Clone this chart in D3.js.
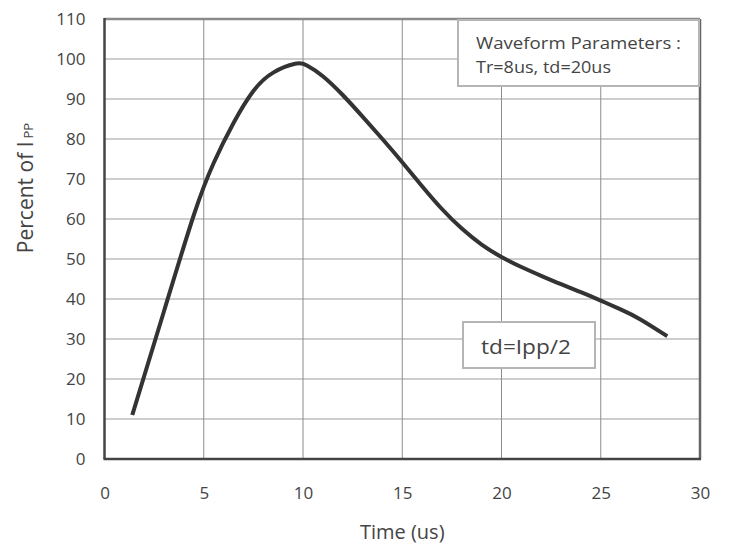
<!DOCTYPE html>
<html lang="en">
<head>
<meta charset="utf-8"/>
<title>Waveform</title>
<script src="https://d3js.org/d3.v7.min.js"></script>
<style>
  body { margin: 0; background: #fff; }
  text { font-family: "Open Sans", sans-serif; fill: #444; }
  .tick line { display: none; }
  .domain { display: none; }
</style>
</head>
<body>
<div id="chart"></div>
<script>
// values
var timeUs = [1.4, 3.0, 4.5, 5.5, 6.5, 7.5, 8.5, 9.6, 10.2, 11, 12, 13, 14, 15, 16, 17, 18,
              19, 20, 21, 22, 23, 24, 25, 26, 27, 28.35];
var percentIpp = [11, 37, 61, 74, 84, 92, 96.6, 98.8, 98.4, 95.7, 91, 85.6, 80, 74.2, 68.2,
                  62.5, 57.6, 53.6, 50.5, 48.0, 45.8, 43.7, 41.7, 39.6, 37.4, 34.9, 30.7];
var xTicks = [0, 5, 10, 15, 20, 25, 30];
var yTicks = [0, 10, 20, 30, 40, 50, 60, 70, 80, 90, 100, 110];
var paramLines = ["Waveform Parameters :", "Tr=8us, td=20us"];
var tdLabel = "td=Ipp/2";

var width = 735, height = 549;
var margin = {top: 19, right: 35, bottom: 90, left: 104.5};

var svg = d3.select("#chart").append("svg")
    .attr("width", width)
    .attr("height", height);

var x = d3.scaleLinear().domain([0, 30]).range([margin.left, width - margin.right]);
var y = d3.scaleLinear().domain([0, 110]).range([height - margin.bottom, margin.top]);

// grid
svg.append("g").selectAll("line")
    .data(yTicks.slice(1, -1))
    .enter().append("line")
      .attr("x1", x(0)).attr("x2", x(30))
      .attr("y1", function(d) { return y(d); })
      .attr("y2", function(d) { return y(d); })
      .attr("stroke", "#bcbcbc")
      .attr("stroke-width", 1.5);

svg.append("g").selectAll("line")
    .data(xTicks.slice(1, -1))
    .enter().append("line")
      .attr("y1", y(0)).attr("y2", y(110))
      .attr("x1", function(d) { return x(d); })
      .attr("x2", function(d) { return x(d); })
      .attr("stroke", "#8c8c8c")
      .attr("stroke-width", 1);

// frame
svg.append("line").attr("x1", x(0)).attr("x2", x(30)).attr("y1", y(110)).attr("y2", y(110))
    .attr("stroke", "#8a8a8a").attr("stroke-width", 2.5);
svg.append("line").attr("x1", x(30)).attr("x2", x(30)).attr("y1", y(110)).attr("y2", y(0))
    .attr("stroke", "#666").attr("stroke-width", 2.5);
svg.append("line").attr("x1", x(0)).attr("x2", x(0)).attr("y1", y(110) - 1).attr("y2", y(0))
    .attr("stroke", "#444").attr("stroke-width", 2.5);
svg.append("line").attr("x1", x(0) - 1).attr("x2", x(30) + 1).attr("y1", y(0)).attr("y2", y(0))
    .attr("stroke", "#444").attr("stroke-width", 2.5);

// axes
svg.append("g")
    .attr("transform", "translate(0," + (y(0) + 16) + ")")
    .call(d3.axisBottom(x).tickValues(xTicks).tickSize(0).tickPadding(12))
    .selectAll("text")
      .style("font-size", "17px")
      .attr("fill", "#444");

svg.append("g")
    .attr("transform", "translate(" + (x(0) - 19) + ",0)")
    .call(d3.axisLeft(y).tickValues(yTicks).tickSize(0).tickPadding(0))
    .selectAll("text")
      .style("font-size", "17px")
      .attr("fill", "#444");

svg.selectAll(".tick text").attr("font-family", null);

// axis titles
svg.append("text")
    .attr("x", (x(0) + x(30)) / 2)
    .attr("y", 539)
    .attr("text-anchor", "middle")
    .style("font-size", "20px")
    .text("Time (us)");

var yt = svg.append("text")
    .attr("transform", "translate(33," + 188 + ") rotate(-90)")
    .attr("text-anchor", "middle")
    .style("font-size", "21px");
yt.append("tspan").text("Percent of I");
yt.append("tspan").attr("dx", 3).style("font-size", "13px").text("PP");

// curve
var pts = timeUs.map(function(t, i) { return [t, percentIpp[i]]; });
var line = d3.line()
    .x(function(d) { return x(d[0]); })
    .y(function(d) { return y(d[1]); })
    .curve(d3.curveNatural);

svg.append("path")
    .datum(pts)
    .attr("d", line)
    .attr("fill", "none")
    .attr("stroke", "#333")
    .attr("stroke-width", 4)
    .attr("stroke-linecap", "butt");

// parameter box
svg.append("rect")
    .attr("x", 458).attr("y", 20).attr("width", 241).attr("height", 66)
    .attr("fill", "#fff").attr("stroke", "#b5b5b5").attr("stroke-width", 2);
svg.append("g").selectAll("text")
    .data(paramLines)
    .enter().append("text")
      .attr("x", 476)
      .attr("y", function(d, i) { return 49 + i * 24; })
      .style("font-size", "17px")
      .attr("fill", "#333")
      .attr("lengthAdjust", "spacingAndGlyphs")
      .attr("textLength", function(d, i) { return i === 0 ? 205 : 135; })
      .text(function(d) { return d; });

// td box
svg.append("rect")
    .attr("x", 463).attr("y", 322).attr("width", 132).attr("height", 46)
    .attr("fill", "#fff").attr("stroke", "#b5b5b5").attr("stroke-width", 2);
svg.append("text")
    .attr("x", 481).attr("y", 354)
    .style("font-size", "20px")
    .attr("fill", "#333")
    .attr("lengthAdjust", "spacingAndGlyphs")
    .attr("textLength", 90)
    .text(tdLabel);
</script>
</body>
</html>
